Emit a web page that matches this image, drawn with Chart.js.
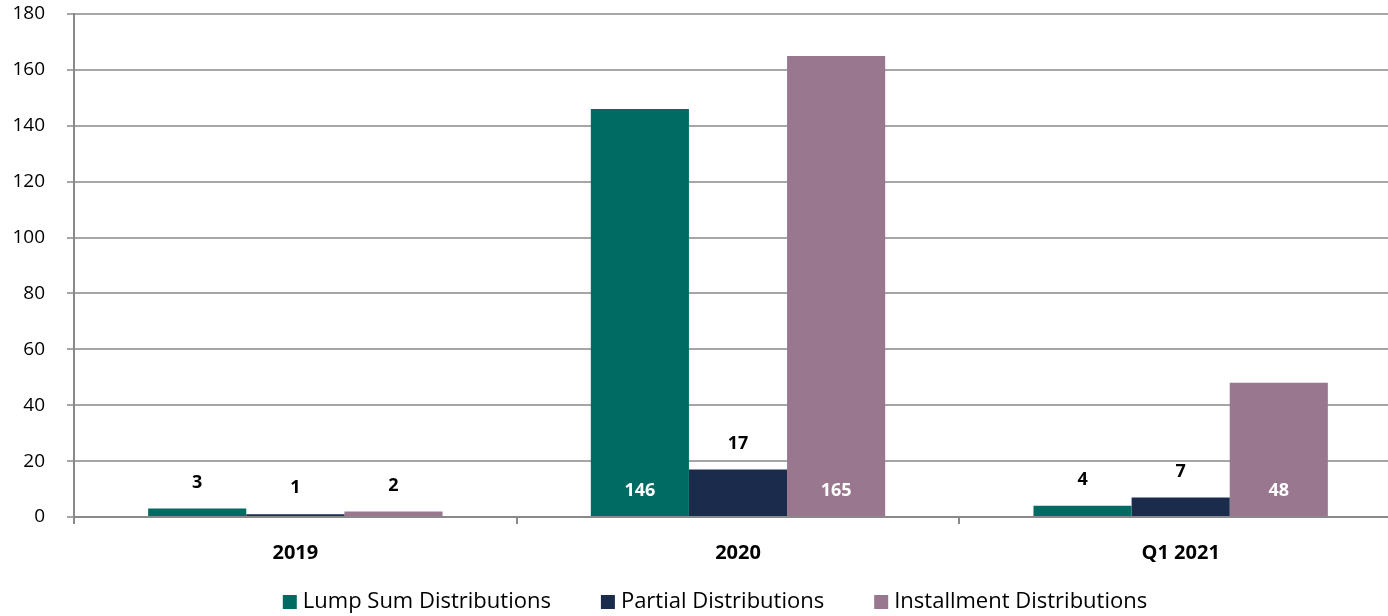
<!DOCTYPE html>
<html>
<head>
<meta charset="utf-8">
<script src="https://cdn.jsdelivr.net/npm/chart.js@4"></script>
<style>
  html, body { margin: 0; padding: 0; background: #fff; overflow: hidden; }
  #wrap { width: 1388px; height: 616px; overflow: hidden; }
</style>
</head>
<body>
<div id="wrap"><canvas id="chart" width="1402" height="616"></canvas></div>
<script>
var categories = ['2019', '2020', 'Q1 2021'];
var lumpSum = [3, 146, 4];
var partial = [1, 17, 7];
var installment = [2, 165, 48];
var seriesNames = ['Lump Sum Distributions', 'Partial Distributions', 'Installment Distributions'];
var seriesColors = ['#006B63', '#1A2B4C', '#98778F'];

var FONT = "'Open Sans', 'Liberation Sans', sans-serif";

// labels: above the bar when small, white inside near the base when tall
var barLabels = {
    id: 'barLabels',
    afterDatasetsDraw: function(chart) {
        var ctx = chart.ctx;
        var yScale = chart.scales.y;
        ctx.save();
        ctx.font = 'bold 18px ' + FONT;
        ctx.textAlign = 'center';
        ctx.textBaseline = 'middle';
        chart.data.datasets.forEach(function(ds, i) {
            chart.getDatasetMeta(i).data.forEach(function(bar, j) {
                var v = ds.data[j];
                if (v >= 30) {
                    ctx.fillStyle = '#ffffff';
                    ctx.fillText(v, bar.x, yScale.getPixelForValue(0) - 26);
                } else {
                    ctx.fillStyle = '#000000';
                    ctx.fillText(v, bar.x, bar.y - 26);
                }
            });
        });
        ctx.restore();
    }
};

// legend along the bottom, wider gaps than the built-in one allows
var bottomLegend = {
    id: 'bottomLegend',
    afterDraw: function(chart) {
        var ctx = chart.ctx;
        var box = 14, gapText = 6, gapItem = 50;
        ctx.save();
        ctx.font = '22px ' + FONT;
        ctx.textBaseline = 'middle';
        var widths = chart.data.datasets.map(function(ds) {
            return box + gapText + ctx.measureText(ds.label).width;
        });
        var total = widths.reduce(function(a, b) { return a + b; }, 0) + gapItem * (widths.length - 1);
        var x = 715 - total / 2;
        var y = 602;
        chart.data.datasets.forEach(function(ds, i) {
            ctx.fillStyle = ds.backgroundColor;
            ctx.fillRect(x, y - box / 2, box, box);
            ctx.fillStyle = '#000';
            ctx.fillText(ds.label, x + box + gapText, y);
            x += widths[i] + gapItem;
        });
        ctx.restore();
    }
};

var ctx = document.getElementById('chart').getContext('2d');
var myChart = new Chart(ctx, {
    type: 'bar',
    data: {
        labels: categories,
        datasets: [
            { label: seriesNames[0], data: lumpSum, backgroundColor: seriesColors[0] },
            { label: seriesNames[1], data: partial, backgroundColor: seriesColors[1] },
            { label: seriesNames[2], data: installment, backgroundColor: seriesColors[2] }
        ]
    },
    options: {
        responsive: false,
        animation: false,
        devicePixelRatio: 1,
        layout: { padding: { top: 0, right: 0, left: 0, bottom: 34 } },
        datasets: {
            bar: { categoryPercentage: 0.665, barPercentage: 1.0 }
        },
        plugins: {
            legend: { display: false },
            tooltip: { enabled: false }
        },
        scales: {
            x: {
                grid: {
                    offset: true,
                    drawOnChartArea: false,
                    color: '#898989',
                    lineWidth: 2,
                    tickLength: 7
                },
                border: { color: '#898989', width: 2 },
                ticks: {
                    color: '#000',
                    padding: 17,
                    font: { family: FONT, size: 20, weight: 'bold' }
                }
            },
            y: {
                min: 0,
                max: 180,
                afterFit: function(scale) {
                    scale.width = 74;
                    scale.paddingTop = 14;
                    scale.paddingBottom = 0;
                },
                ticks: {
                    stepSize: 20,
                    color: '#000',
                    padding: 22,
                    font: { family: FONT, size: 19 }
                },
                grid: { color: '#A6A6A6', lineWidth: 2, tickLength: 7 },
                border: { color: '#898989', width: 2 }
            }
        }
    },
    plugins: [barLabels, bottomLegend]
});
</script>
</body>
</html>
